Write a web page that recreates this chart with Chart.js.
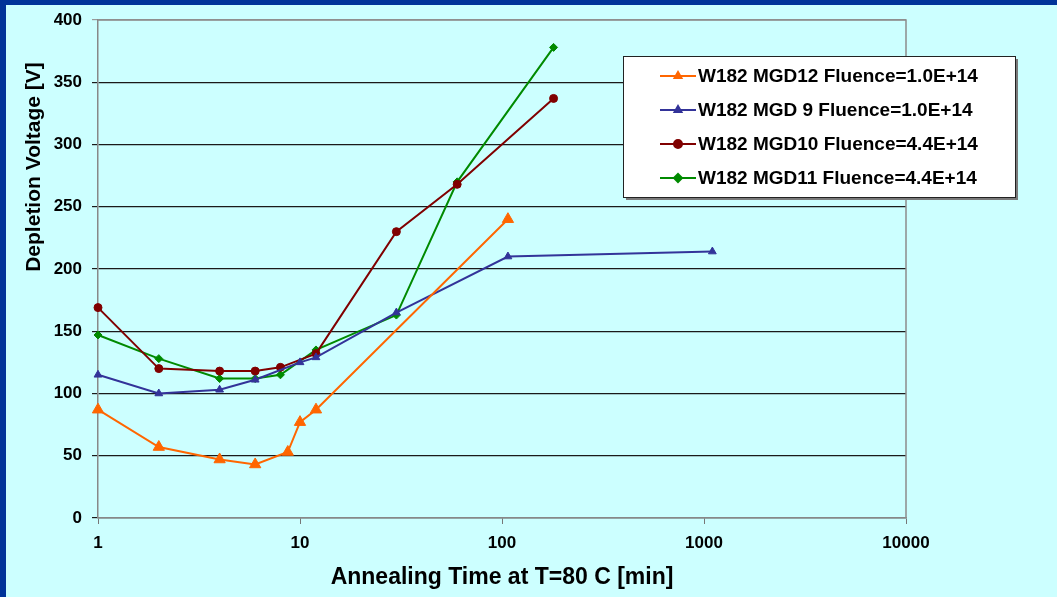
<!DOCTYPE html>
<html>
<head>
<meta charset="utf-8">
<title>Depletion voltage vs annealing time</title>
<script src="https://cdn.jsdelivr.net/npm/chart.js@4/dist/chart.umd.min.js"></script>
<style>
  html, body { margin: 0; padding: 0; background: #003399; }
  #wrap { position: absolute; left: 6px; top: 5px; width: 1051px; height: 592px; background: #ccffff; }
</style>
</head>
<body>
<div id="wrap"><canvas id="annealChart" width="1051" height="592"></canvas></div>
<script>
// annealing time [min] and depletion voltage [V] per sample
const seriesLabels = [
  "W182 MGD12 Fluence=1.0E+14",
  "W182 MGD 9 Fluence=1.0E+14",
  "W182 MGD10 Fluence=4.4E+14",
  "W182 MGD11 Fluence=4.4E+14"
];
const mgd12Time = [1, 2, 4, 6, 8.7, 10, 12, 107];
const mgd12Volt = [87, 57, 47, 43, 53, 77, 87, 240];
const mgd9Time = [1, 2, 4, 6, 10, 12, 30, 107, 1100];
const mgd9Volt = [115, 100, 103, 111, 125, 129, 165, 210, 214];
const mgd10Time = [1, 2, 4, 6, 8, 12, 30, 60, 180];
const mgd10Volt = [169, 120, 118, 118, 121, 132, 230, 268, 337];
const mgd11Time = [1, 2, 4, 6, 8, 12, 30, 60, 180];
const mgd11Volt = [147, 128, 112, 112, 115, 135, 163, 270, 378];
const xTickValues = [1, 10, 100, 1000, 10000];

const FONT = "'Liberation Sans', Arial, sans-serif";

function pts(xs, ys) {
  return xs.map((x, i) => ({ x: x, y: ys[i] }));
}

function series(label, xs, ys, color, style, radius) {
  return {
    label: label,
    data: pts(xs, ys),
    borderColor: color,
    backgroundColor: color,
    borderWidth: 2,
    pointStyle: style,
    pointRadius: radius,
    pointBorderWidth: 1,
    tension: 0,
    clip: false
  };
}

// grey frame on the top and right of the plot area
const plotFrame = {
  id: "plotFrame",
  beforeDatasetsDraw(chart) {
    const { ctx, chartArea: a } = chart;
    ctx.save();
    ctx.strokeStyle = "#8c8c8c";
    ctx.lineWidth = 1.5;
    ctx.beginPath();
    ctx.moveTo(a.left, a.top);
    ctx.lineTo(a.right, a.top);
    ctx.lineTo(a.right, a.bottom);
    ctx.stroke();
    ctx.restore();
  }
};

// y title sits in the upper half of the axis, drawn by hand
const yTitle = {
  id: "yTitle",
  afterDraw(chart) {
    const ctx = chart.ctx;
    ctx.save();
    ctx.translate(28, 162);
    ctx.rotate(-Math.PI / 2);
    ctx.font = "bold 21px " + FONT;
    ctx.fillStyle = "#000";
    ctx.textAlign = "center";
    ctx.textBaseline = "middle";
    ctx.fillText("Depletion Voltage [V]", 0, 0);
    ctx.restore();
  }
};

// boxed legend inside the plot, top right
const boxLegend = {
  id: "boxLegend",
  afterDraw(chart) {
    const ctx = chart.ctx;
    const x0 = 617, y0 = 51, w = 392, h = 141;
    ctx.save();
    ctx.fillStyle = "#7a7a7a";
    ctx.fillRect(x0 + 3, y0 + 3, w, h);
    ctx.fillStyle = "#ffffff";
    ctx.fillRect(x0, y0, w, h);
    ctx.strokeStyle = "#222";
    ctx.lineWidth = 1;
    ctx.strokeRect(x0 + 0.5, y0 + 0.5, w, h);
    ctx.font = "bold 19px " + FONT;
    ctx.textBaseline = "middle";
    chart.data.datasets.forEach((ds, i) => {
      const y = 71 + i * 34;
      ctx.strokeStyle = ds.borderColor;
      ctx.lineWidth = 2;
      ctx.beginPath();
      ctx.moveTo(654, y);
      ctx.lineTo(690, y);
      ctx.stroke();
      Chart.helpers.drawPoint(ctx, {
        pointStyle: ds.pointStyle,
        radius: Math.min(ds.pointRadius, 4),
        borderWidth: 1
      }, 672, y);
      ctx.fillStyle = ds.borderColor;
      ctx.fill();
      ctx.fillStyle = "#000";
      ctx.fillText(ds.label, 692, y + 1);
    });
    ctx.restore();
  }
};

const ctx = document.getElementById("annealChart").getContext("2d");

new Chart(ctx, {
  type: "line",
  data: {
    datasets: [
      series(seriesLabels[0], mgd12Time, mgd12Volt, "#ff6600", "triangle", 6.5),
      series(seriesLabels[1], mgd9Time, mgd9Volt, "#333399", "triangle", 4.5),
      series(seriesLabels[2], mgd10Time, mgd10Volt, "#800000", "circle", 4),
      series(seriesLabels[3], mgd11Time, mgd11Volt, "#008a00", "rectRot", 4)
    ]
  },
  options: {
    responsive: false,
    animation: false,
    layout: { padding: { top: 15, right: 151, left: 0, bottom: 0 } },
    plugins: {
      legend: { display: false },
      tooltip: { enabled: false }
    },
    scales: {
      x: {
        type: "logarithmic",
        min: 1,
        max: 10000,
        afterBuildTicks: (scale) => {
          scale.ticks = xTickValues.map(v => ({ value: v }));
        },
        afterFit: (scale) => { scale.height = 79; },
        grid: { drawOnChartArea: false, tickLength: 6, color: "#777" },
        border: { color: "#888", width: 1.5 },
        ticks: {
          padding: 9,
          maxRotation: 0,
          color: "#000",
          font: { family: FONT, size: 17, weight: "bold" },
          callback: (v) => String(v)
        },
        title: {
          display: true,
          text: "Annealing Time at T=80 C [min]",
          color: "#000",
          font: { family: FONT, size: 23, weight: "bold" },
          padding: { top: 0, bottom: 6 }
        }
      },
      y: {
        min: 0,
        max: 400,
        afterFit: (scale) => {
          scale.width = 92;
          // top label may overhang; the layout padding already leaves room
          scale.paddingTop = 0;
        },
        grid: {
          tickLength: 6,
          lineWidth: 1.2,
          color: (c) => (c.tick && c.tick.value === 400 ? "#9a9a9a" : "#1a1a1a")
        },
        border: { color: "#888", width: 1.5 },
        ticks: {
          stepSize: 50,
          padding: 10,
          color: "#000",
          font: { family: FONT, size: 17, weight: "bold" }
        }
      }
    }
  },
  plugins: [plotFrame, yTitle, boxLegend]
});
</script>
</body>
</html>
